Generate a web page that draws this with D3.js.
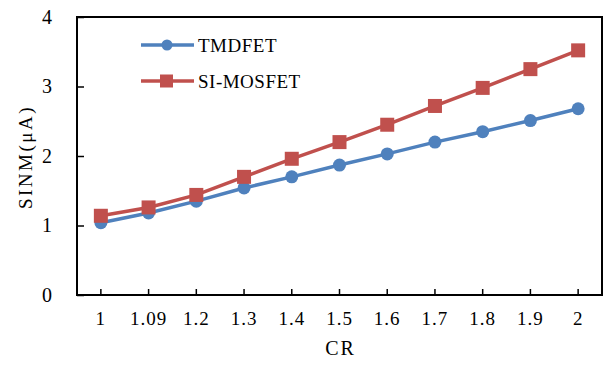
<!DOCTYPE html>
<html>
<head>
<meta charset="utf-8">
<script src="https://cdnjs.cloudflare.com/ajax/libs/d3/7.8.5/d3.min.js"></script>
<style>
body { margin: 0; background: #fff; }
text { font-family: "Liberation Serif", "DejaVu Serif", serif; fill: #000; }
</style>
</head>
<body>
<svg id="chart" width="605" height="365"></svg>
<script>
var categories = ["1", "1.09", "1.2", "1.3", "1.4", "1.5", "1.6", "1.7", "1.8", "1.9", "2"];
var tmdfet = [1.04, 1.18, 1.35, 1.54, 1.70, 1.87, 2.03, 2.20, 2.35, 2.51, 2.68];
var simosfet = [1.14, 1.26, 1.44, 1.70, 1.96, 2.20, 2.45, 2.72, 2.98, 3.25, 3.52];
var yTicks = [0, 1, 2, 3, 4];

var svg = d3.select("#chart");
var margin = { top: 17, right: 3, bottom: 70, left: 77 };
var width = 605 - margin.left - margin.right;
var height = 365 - margin.top - margin.bottom;

var g = svg.append("g")
	.attr("transform", "translate(" + margin.left + "," + margin.top + ")");

var x = d3.scaleBand().domain(categories).range([0, width]);
var y = d3.scaleLinear().domain([0, 4]).range([height, 0]);

// frame
g.append("rect")
	.attr("width", width)
	.attr("height", height)
	.attr("fill", "none")
	.attr("stroke", "#000")
	.attr("stroke-width", 2);

// y axis, ticks pointing inwards
var yAxis = g.append("g")
	.call(d3.axisLeft(y).tickValues(yTicks).tickSizeInner(-7).tickSizeOuter(0).tickPadding(25).tickFormat(d3.format("d")));
yAxis.select(".domain").remove();
yAxis.selectAll("line").attr("stroke", "#000").attr("stroke-width", 1.5);
yAxis.selectAll("text").style("font-size", "20px").attr("font-family", null);

// x axis
var xAxis = g.append("g")
	.attr("transform", "translate(0," + height + ")")
	.call(d3.axisBottom(x).tickSizeInner(-6).tickSizeOuter(0).tickPadding(17));
xAxis.select(".domain").remove();
xAxis.selectAll("line").attr("stroke", "#000").attr("stroke-width", 1.5);
xAxis.selectAll("text").style("font-size", "19px").style("letter-spacing", "1px").attr("font-family", null);

svg.append("text")
	.attr("x", margin.left + width / 2 + 1)
	.attr("y", 355)
	.attr("text-anchor", "middle")
	.style("font-size", "20px")
	.style("letter-spacing", "2px")
	.text("CR");

svg.append("text")
	.attr("transform", "translate(32,157) rotate(-90)")
	.attr("text-anchor", "middle")
	.style("font-size", "19px")
	.style("letter-spacing", "2.5px")
	.text("SINM(μA)");

var line = d3.line()
	.x(function(d, i) { return x(categories[i]) + x.bandwidth() / 2; })
	.y(function(d) { return y(d); });

var series = [
	{ name: "TMDFET", values: tmdfet, color: "#4F81BD", shape: "circle" },
	{ name: "SI-MOSFET", values: simosfet, color: "#C0504D", shape: "square" }
];

series.forEach(function(s) {
	g.append("path")
		.datum(s.values)
		.attr("fill", "none")
		.attr("stroke", s.color)
		.attr("stroke-width", 3.5)
		.attr("d", line);

	if (s.shape === "circle") {
		g.selectAll(".pt-" + s.shape)
			.data(s.values)
			.enter().append("circle")
			.attr("cx", function(d, i) { return x(categories[i]) + x.bandwidth() / 2; })
			.attr("cy", function(d) { return y(d); })
			.attr("r", 6.5)
			.attr("fill", s.color);
	} else {
		g.selectAll(".pt-" + s.shape)
			.data(s.values)
			.enter().append("rect")
			.attr("x", function(d, i) { return x(categories[i]) + x.bandwidth() / 2 - 7; })
			.attr("y", function(d) { return y(d) - 7; })
			.attr("width", 14)
			.attr("height", 14)
			.attr("fill", s.color);
	}
});

// legend
var legend = svg.append("g");
series.forEach(function(s, i) {
	var ly = 45 + i * 36;
	legend.append("line")
		.attr("x1", 141).attr("x2", 194)
		.attr("y1", ly).attr("y2", ly)
		.attr("stroke", s.color)
		.attr("stroke-width", 3.5);
	if (s.shape === "circle") {
		legend.append("circle").attr("cx", 167).attr("cy", ly).attr("r", 5.5).attr("fill", s.color);
	} else {
		legend.append("rect").attr("x", 160).attr("y", ly - 6.5).attr("width", 13).attr("height", 13).attr("fill", s.color);
	}
	legend.append("text")
		.attr("x", 198)
		.attr("y", ly + 7)
		.style("font-size", "19px")
		.style("letter-spacing", "0.5px")
		.text(s.name);
});
</script>
</body>
</html>
